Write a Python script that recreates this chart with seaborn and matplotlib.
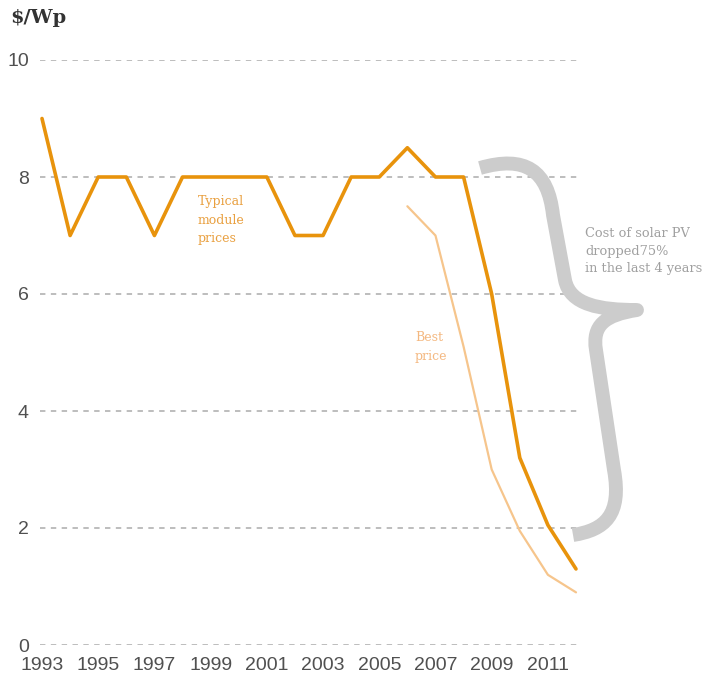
import matplotlib
matplotlib.use("Agg")
import matplotlib.pyplot as plt
from matplotlib.path import Path
from matplotlib.patches import PathPatch
from matplotlib.transforms import Affine2D
import seaborn as sns
import pandas as pd

# Module price history, $/Wp
years = list(range(1993, 2013))
typical_prices = [9.0, 7.0, 8.0, 8.0, 7.0, 8.0, 8.0, 8.0, 8.0, 7.0,
                  7.0, 8.0, 8.0, 8.5, 8.0, 8.0, 6.0, 3.2, 2.05, 1.3]
best_years = list(range(2006, 2013))
best_prices = [7.5, 7.0, 5.1, 3.0, 1.95, 1.2, 0.9]

x_ticks = list(range(1993, 2012, 2))
y_ticks = [0, 2, 4, 6, 8, 10]

typical_df = pd.DataFrame({"year": years, "price": typical_prices})
best_df = pd.DataFrame({"year": best_years, "price": best_prices})

sns.set_theme(style="white")
plt.rcParams["font.family"] = ["Liberation Sans", "DejaVu Sans"]

W, H = 714, 690
fig = plt.figure(figsize=(W / 100, H / 100), dpi=100)
fig.patch.set_facecolor("white")
ax = fig.add_axes([40 / W, 45 / H, 540 / W, 585 / H])
ax.set_facecolor("white")

ORANGE = "#e8930c"
LIGHT_ORANGE = "#f6c58c"
GRID = "#b8b8b8"
TEXT_GRAY = "#505050"

for v in y_ticks:
    ax.axhline(v, color=GRID, lw=1.3, ls=(0, (3, 3)), zorder=0)

sns.lineplot(data=best_df, x="year", y="price", ax=ax, color=LIGHT_ORANGE,
             lw=1.6, zorder=2, clip_on=False)
sns.lineplot(data=typical_df, x="year", y="price", ax=ax, color=ORANGE,
             lw=2.6, zorder=3, clip_on=False)

ax.set_xlim(1993 - 2 / 28.1, 2012 + 4 / 28.1)
ax.set_ylim(0, 10)
ax.set_xticks(x_ticks)
ax.set_yticks(y_ticks)
ax.set_xlabel("")
ax.set_ylabel("")
for s in ax.spines.values():
    s.set_visible(False)
ax.tick_params(axis="both", length=0, labelsize=14, colors=TEXT_GRAY)
ax.tick_params(axis="y", pad=8)
ax.tick_params(axis="x", pad=9)

# Unit label
fig.text(10 / W, 1 - 18 / H, "$/Wp", family="DejaVu Serif", weight="bold",
         fontsize=14, color="#333333", va="center", ha="left")

# Series labels
ax.text(1998.55, 7.26, "Typical\nmodule\nprices", family="DejaVu Serif",
        fontsize=9, color="#e9a040", va="center", ha="left", linespacing=1.55)
ax.text(2006.27, 5.09, "Best\nprice", family="DejaVu Serif",
        fontsize=9, color="#f4b880", va="center", ha="left", linespacing=1.55)

# Brace marking the recent drop, drawn in pixel space
px = Affine2D().scale(1 / 100, -1 / 100).translate(0, H / 100) + fig.dpi_scale_trans
verts = [(480, 168), (525, 155), (548, 170), (553, 215),
         (565, 280),
         (570, 305), (600, 310), (637, 310),
         (605, 315), (592, 325), (596, 350),
         (614, 470),
         (622, 515), (605, 530), (573, 535)]
codes = [Path.MOVETO, Path.CURVE4, Path.CURVE4, Path.CURVE4,
         Path.LINETO,
         Path.CURVE4, Path.CURVE4, Path.CURVE4,
         Path.CURVE4, Path.CURVE4, Path.CURVE4,
         Path.LINETO,
         Path.CURVE4, Path.CURVE4, Path.CURVE4]
brace = PathPatch(Path(verts, codes), transform=px, facecolor="none",
                  edgecolor="#cccccc", lw=10, capstyle="butt", joinstyle="round",
                  zorder=1, clip_on=False)
fig.add_artist(brace)

fig.text(585 / W, 1 - 251 / H, "Cost of solar PV\ndropped75%\nin the last 4 years",
         family="DejaVu Serif", fontsize=9.3, color="#a0a0a0",
         va="center", ha="left", linespacing=1.45)

fig.savefig("out.png", dpi=100, facecolor="white")
